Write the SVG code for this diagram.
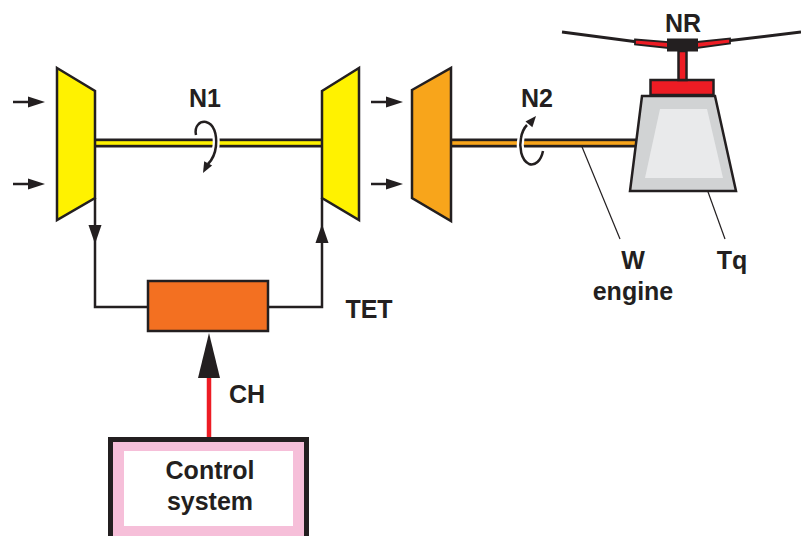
<svg xmlns="http://www.w3.org/2000/svg" width="801" height="536" viewBox="0 0 801 536">
  <style>
    .ln { fill: none; stroke: #231F20; stroke-width: 2.5; }
    .thin { fill: none; stroke: #231F20; stroke-width: 1.2; }
    .body { stroke: #231F20; stroke-width: 2.5; stroke-linejoin: miter; }
    .lbl { font-family: "Liberation Sans", Arial, sans-serif; font-weight: bold; font-size: 25px; fill: #231F20; text-anchor: middle; }
    .dark { fill: #231F20; }
  </style>
  <defs>
    <!-- arrowheads pointing along +x, tip at origin -->
    <path id="headS" d="M0,0 L-17,-5.5 L-17,5.5 Z"/>
    <path id="headM" d="M0,0 L-19,-6.5 L-19,6.5 Z"/>
    <path id="headR" d="M0,0 L-11,-4.5 L-11,4.5 Z"/>
  </defs>

  <rect width="801" height="536" fill="#FFFFFF"/>

  <!-- connectors -->
  <g id="connectors">
    <!-- inlet / outlet flow arrows -->
    <line class="ln" x1="13" y1="102" x2="32" y2="102"/>
    <use href="#headS" class="dark" transform="translate(45,102)"/>
    <line class="ln" x1="13" y1="184" x2="32" y2="184"/>
    <use href="#headS" class="dark" transform="translate(45,184)"/>
    <line class="ln" x1="371" y1="102" x2="390" y2="102"/>
    <use href="#headS" class="dark" transform="translate(403,102)"/>
    <line class="ln" x1="371" y1="184" x2="390" y2="184"/>
    <use href="#headS" class="dark" transform="translate(403,184)"/>

    <!-- compressor to combustion chamber -->
    <path class="ln" d="M95,198 V307 H148"/>
    <use href="#headM" class="dark" transform="translate(95,244) rotate(90)"/>
    <!-- combustion chamber to turbine -->
    <path class="ln" d="M268,307 H322 V198"/>
    <use href="#headM" class="dark" transform="translate(322,224) rotate(-90)"/>

    <!-- fuel command -->
    <line x1="209" y1="438" x2="209" y2="372" stroke="#ED1C24" stroke-width="4.5"/>
    <path class="dark" d="M209,333 L198,378 L220,378 Z"/>

    <!-- leader lines -->
    <line class="thin" x1="580" y1="142" x2="620" y2="239"/>
    <line class="thin" x1="703" y1="178" x2="725" y2="239"/>
  </g>

  <!-- gas generator shaft N1 -->
  <g id="shaft-n1">
    <rect x="95" y="138.5" width="227" height="9" fill="#231F20"/>
    <rect x="95" y="141.2" width="227" height="3.6" fill="#FFF200"/>
    <path d="M196,135 C194,126 200,121 206,122 C214,124 217,134 216,146 C215,155 212,160 208,164" fill="none" stroke="#FFFFFF" stroke-width="7"/>
    <path d="M196,135 C194,126 200,121 206,122 C214,124 217,134 216,146 C215,155 212,160 208,164" class="ln"/>
    <use href="#headR" class="dark" transform="translate(203,173) rotate(118)"/>
  </g>

  <!-- free turbine shaft N2 -->
  <g id="shaft-n2">
    <rect x="450" y="138.5" width="192" height="9" fill="#231F20"/>
    <rect x="450" y="141.2" width="192" height="3.6" fill="#F8A51B"/>
    <path d="M543,151 C541,161 535,166 529,164 C521,160 519,147 521,138 C522,132 524,128 527,125" fill="none" stroke="#FFFFFF" stroke-width="7"/>
    <path d="M543,151 C541,161 535,166 529,164 C521,160 519,147 521,138 C522,132 524,128 527,125" class="ln"/>
    <use href="#headR" class="dark" transform="translate(536,116) rotate(-50)"/>
  </g>

  <!-- compressor -->
  <g id="compressor">
    <polygon class="body" points="57,68 95,91 95,198 57,220" fill="#FFF200"/>
  </g>

  <!-- gas generator turbine -->
  <g id="turbine">
    <polygon class="body" points="322,91 359,68 359,220 322,198" fill="#FFF200"/>
  </g>

  <!-- free power turbine -->
  <g id="power-turbine">
    <polygon class="body" points="412,90 451,68 451,221 412,198" fill="#F8A51B"/>
  </g>

  <!-- combustion chamber -->
  <g id="combustor">
    <rect class="body" x="148" y="281" width="120" height="50" fill="#F37021"/>
  </g>

  <!-- main gearbox and rotor -->
  <g id="gearbox">
    <polygon class="body" points="642,96 715,96 736,191 630,191" stroke-width="3" fill="#D1D3D4"/>
    <polygon points="660,109 707,109 723,178 645,178" fill="#E9EAEB"/>
    <rect class="body" x="650.5" y="80" width="63" height="15" fill="#ED1C24"/>
  </g>

  <g id="rotor">
    <rect class="body" x="678.5" y="51" width="8" height="29" fill="#ED1C24" stroke-width="2"/>
    <line x1="562" y1="32" x2="638" y2="42" stroke="#231F20" stroke-width="3"/>
    <line x1="726" y1="41" x2="801" y2="32" stroke="#231F20" stroke-width="3"/>
    <polygon points="635,39.5 668,42 668,48 635,44.5" fill="#ED1C24" stroke="#231F20" stroke-width="1.8"/>
    <polygon points="697,42 730,38.5 730,43.5 697,48" fill="#ED1C24" stroke="#231F20" stroke-width="1.8"/>
    <rect x="667" y="38.5" width="31" height="13" fill="#231F20"/>
  </g>

  <!-- control system -->
  <g id="control-system">
    <rect x="110.5" y="439.5" width="196" height="120" fill="#F6BFD9" stroke="#231F20" stroke-width="5"/>
    <rect x="124" y="451" width="169" height="75" fill="#FFFFFF"/>
    <text class="lbl" x="210" y="479">Control</text>
    <text class="lbl" x="210" y="510">system</text>
  </g>

  <!-- labels -->
  <g id="labels">
    <text class="lbl" x="205" y="107">N1</text>
    <text class="lbl" x="537" y="107">N2</text>
    <text class="lbl" x="683" y="32">NR</text>
    <text class="lbl" x="369" y="318">TET</text>
    <text class="lbl" x="247" y="403">CH</text>
    <text class="lbl" x="633" y="269">W</text>
    <text class="lbl" x="633" y="300">engine</text>
    <text class="lbl" x="732" y="269">Tq</text>
  </g>
</svg>
